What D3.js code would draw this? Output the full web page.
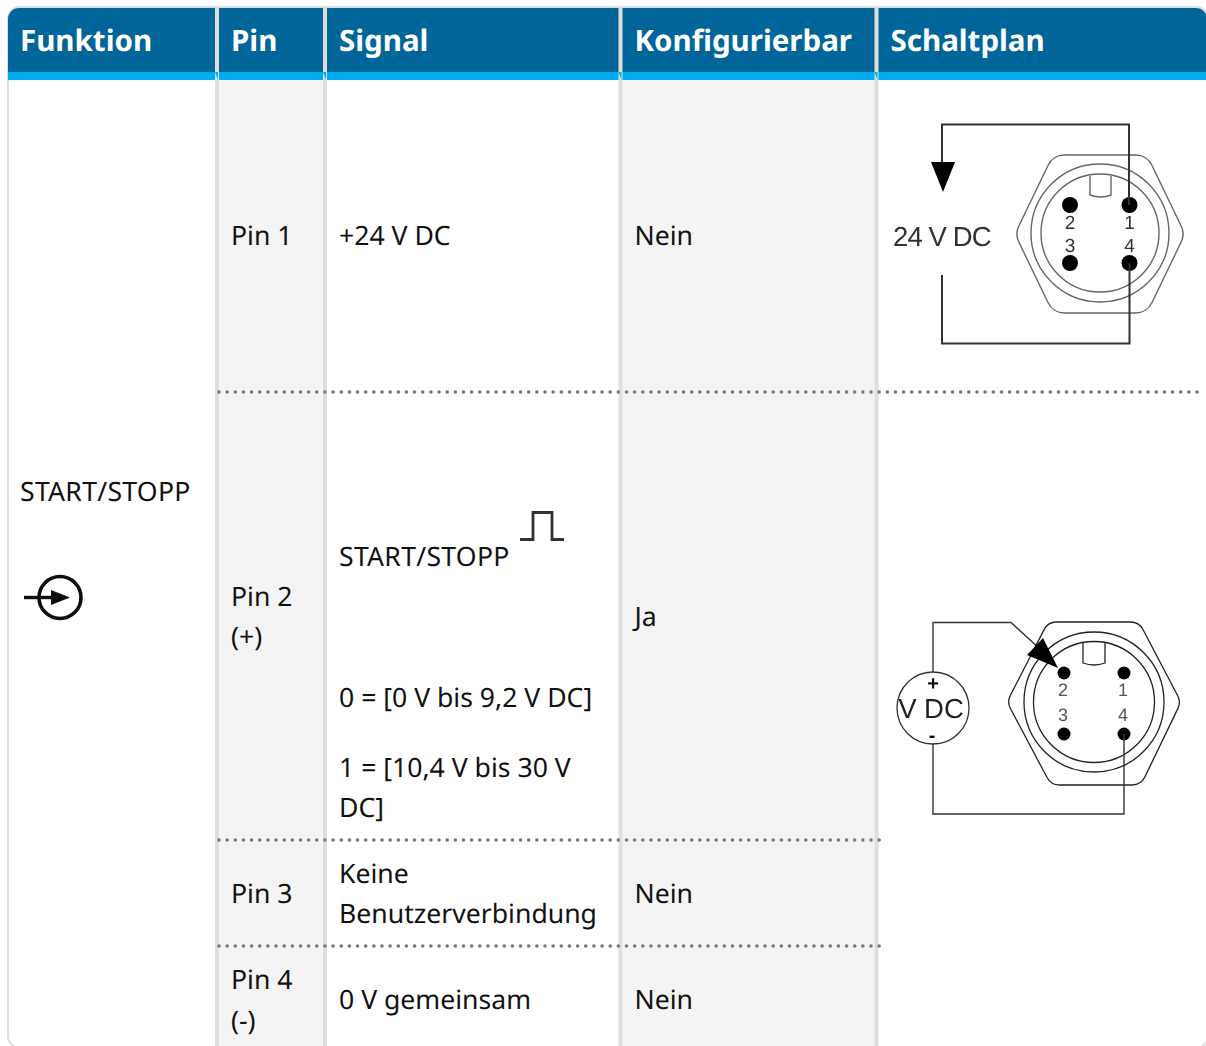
<!DOCTYPE html>
<html>
<head>
<meta charset="utf-8">
<script src="https://cdn.jsdelivr.net/npm/d3@7"></script>
<style>
html, body { margin: 0; padding: 0; background: #fff; overflow: hidden; }
svg { display: block; }
text { font-family: "Noto Sans", sans-serif; text-rendering: geometricPrecision; }
</style>
</head>
<body>
<div id="table"></div>
<script>
// table content
var headers = ["Funktion", "Pin", "Signal", "Konfigurierbar", "Schaltplan"];
var functionLabel = "START/STOPP";
var pinLabels = [["Pin 1"], ["Pin 2", "(+)"], ["Pin 3"], ["Pin 4", "(-)"]];
var signalLabels = [
	["+24 V DC"],
	["START/STOPP", "0 = [0 V bis 9,2 V DC]", "1 = [10,4 V bis 30 V", "DC]"],
	["Keine", "Benutzerverbindung"],
	["0 V gemeinsam"]
];
var configLabels = ["Nein", "Ja", "Nein", "Nein"];
var connectorPins = ["1", "2", "3", "4"];

// layout, separate from the content
var width = 1206, height = 1046;
var columnEdges = [7, 215, 323, 618.5, 874.5, 1230];
var rowEdges = [80, 392, 840, 946, 1048];
var borderWidth = 4, textPad = 12;
var pinBaselines = [[245], [606, 646], [903], [989, 1030]];
var signalBaselines = [[245], [566, 707, 777, 817], [883, 923], [1009]];
var configBaselines = [245, 626, 903, 1009];

var colors = {dark: "#006699", light: "#00aeef", border: "#dedede", shade: "#f4f4f4", dots: "#777", text: "#111", wire: "#333"};

var svg = d3.select("#table").append("svg")
	.attr("width", width)
	.attr("height", height);

// the connector drawings are scaled pictures in the original, so soften them a bit
var soft = svg.append("defs").append("filter").attr("id", "soft");
soft.append("feGaussianBlur").attr("stdDeviation", 0.5);

// column index -> left edge
var x = d3.scaleOrdinal().domain(d3.range(columnEdges.length)).range(columnEdges);
var textX = function(i) { return x(i) + (i == 0 ? 13 : borderWidth + textPad); };

// shaded columns
[1, 3].forEach(function(i) {
	svg.append("rect")
		.attr("x", x(i))
		.attr("y", rowEdges[0])
		.attr("width", x(i + 1) - x(i))
		.attr("height", height - rowEdges[0])
		.attr("fill", colors.shade);
});

// outer border with rounded corners, runs past the right edge
svg.append("rect")
	.attr("x", 8)
	.attr("y", 7)
	.attr("width", 1200)
	.attr("height", 1041)
	.attr("rx", 12)
	.attr("fill", "none")
	.attr("stroke", colors.border)
	.attr("stroke-width", 2);

// header bands
var clipTop = svg.append("clipPath").attr("id", "headclip");
clipTop.append("rect").attr("x", 8).attr("y", 8).attr("width", 1199).attr("height", 90).attr("rx", 11);
var head = svg.append("g").attr("clip-path", "url(#headclip)");
head.append("rect").attr("x", 7).attr("y", 8).attr("width", 1250).attr("height", 64).attr("fill", colors.dark);
head.append("rect").attr("x", 7).attr("y", 72).attr("width", 1250).attr("height", 8).attr("fill", colors.light);

// column rules
svg.selectAll(".rule")
	.data(columnEdges.slice(1, 5))
	.enter().append("rect")
	.attr("class", "rule")
	.attr("x", function(d) { return d; })
	.attr("y", 8)
	.attr("width", borderWidth)
	.attr("height", height - 8)
	.attr("fill", colors.border);

// little mitre where the rule meets the blue band
svg.selectAll(".mitre")
	.data(columnEdges.slice(1, 5))
	.enter().append("path")
	.attr("class", "mitre")
	.attr("d", function(d) { return "M" + d + ",72L" + (d + 3) + ",72L" + (d + 3) + ",80Z"; })
	.attr("fill", colors.light);

// dotted row rules
var dotted = [
	{y: rowEdges[1], x1: 219, x2: 1204},
	{y: rowEdges[2], x1: 219, x2: 880},
	{y: rowEdges[3], x1: 219, x2: 880}
];
svg.selectAll(".dots")
	.data(dotted)
	.enter().append("line")
	.attr("class", "dots")
	.attr("x1", function(d) { return d.x1; })
	.attr("x2", function(d) { return d.x2; })
	.attr("y1", function(d) { return d.y; })
	.attr("y2", function(d) { return d.y; })
	.attr("stroke", colors.dots)
	.attr("stroke-width", 3.6)
	.attr("stroke-linecap", "round")
	.attr("stroke-dasharray", "0.01 8.14");

// header text
svg.selectAll(".head")
	.data(headers)
	.enter().append("text")
	.attr("class", "head")
	.attr("x", function(d, i) { return textX(i); })
	.attr("y", 51)
	.attr("fill", "#fff")
	.attr("font-size", 29.5)
	.attr("font-weight", 700)
	.text(function(d) { return d; });

function cellText(col, lines, baselines) {
	svg.append("g").selectAll("text")
		.data(lines)
		.enter().append("text")
		.attr("x", textX(col))
		.attr("y", function(d, i) { return baselines[i]; })
		.attr("fill", colors.text)
		.attr("font-size", 26.6)
		.attr("letter-spacing", function(d) { return d == functionLabel ? 0.28 : null; })
		.text(function(d) { return d; });
}

cellText(0, [functionLabel], [501]);
pinLabels.forEach(function(lines, r) { cellText(1, lines, pinBaselines[r]); });
signalLabels.forEach(function(lines, r) { cellText(2, lines, signalBaselines[r]); });
configLabels.forEach(function(d, r) { cellText(3, [d], [configBaselines[r]]); });

var line = d3.line();

// START/STOPP input icon
var icon = svg.append("g").attr("stroke", "#111").attr("fill", "none").attr("filter", "url(#soft)");
icon.append("circle").attr("cx", 60).attr("cy", 597.5).attr("r", 21).attr("stroke-width", 3.6);
icon.append("path").attr("d", line([[24, 597.5], [52, 597.5]])).attr("stroke-width", 3.4);
icon.append("path").attr("d", line([[51, 590], [70, 597.5], [51, 605]]) + "Z").attr("fill", "#111").attr("stroke", "none");

// pulse next to START/STOPP
svg.append("path")
	.attr("d", line([[520, 539.5], [533, 539.5], [533, 512.5], [552, 512.5], [552, 539.5], [564, 539.5]]))
	.attr("fill", "none")
	.attr("stroke", colors.wire)
	.attr("stroke-width", 2.8)
	.attr("filter", "url(#soft)");

// hexagon outline with rounded corners
function hexPath(h, r) {
	var p = d3.path();
	var n = h.length;
	var mid = [(h[n - 1][0] + h[0][0]) / 2, (h[n - 1][1] + h[0][1]) / 2];
	p.moveTo(mid[0], mid[1]);
	h.forEach(function(v, i) {
		var next = h[(i + 1) % n];
		p.arcTo(v[0], v[1], next[0], next[1], r);
	});
	p.closePath();
	return p.toString();
}

// connector drawing, hexagon with rings, key and four pins
function connector(c) {
	var g = svg.append("g").attr("filter", "url(#soft)");
	g.append("path")
		.attr("d", hexPath(c.hex, c.hexR))
		.attr("fill", "none")
		.attr("stroke", c.hexColor)
		.attr("stroke-width", c.hexWidth);
	g.selectAll(".ring")
		.data(c.rings)
		.enter().append("circle")
		.attr("class", "ring")
		.attr("cx", c.cx)
		.attr("cy", c.cy)
		.attr("r", function(d) { return d; })
		.attr("fill", "none")
		.attr("stroke", c.hexColor)
		.attr("stroke-width", c.hexWidth);
	g.append("path")
		.attr("d", "M" + c.key[0] + "," + c.key[2] + "V" + (c.key[3] - 2) + "Q" + (c.key[0] + c.key[1]) / 2 + "," + (c.key[3] + 2) + " " + c.key[1] + "," + (c.key[3] - 2) + "V" + c.key[2])
		.attr("fill", "none")
		.attr("stroke", c.hexColor)
		.attr("stroke-width", c.hexWidth);
	g.selectAll(".pin")
		.data(c.pins)
		.enter().append("circle")
		.attr("class", "pin")
		.attr("cx", function(d) { return d[0]; })
		.attr("cy", function(d) { return d[1]; })
		.attr("r", c.pinR)
		.attr("fill", "#000");
	g.selectAll(".num")
		.data(connectorPins)
		.enter().append("text")
		.attr("x", function(d, i) { return c.nums[i][0]; })
		.attr("y", function(d, i) { return c.nums[i][1]; })
		.attr("text-anchor", "middle")
		.attr("font-size", c.numSize)
		.attr("fill", c.numColor)
		.style("font-family", "Liberation Sans")
		.text(function(d) { return d; });
	c.wires.forEach(function(w) {
		g.append("path")
			.attr("d", line(w))
			.attr("fill", "none")
			.attr("stroke", colors.wire)
			.attr("stroke-width", c.wireWidth);
	});
	g.append("path").attr("d", line(c.arrow) + "Z").attr("fill", "#000");
	return g;
}

var first = connector({
	cx: 1100, cy: 233, rings: [69, 59],
	hex: [[1053, 155], [1147, 155], [1185, 234], [1147, 313], [1053, 313], [1015, 234]], hexR: 18,
	hexColor: "#666", hexWidth: 1.4,
	key: [1090, 1111, 176, 197],
	pins: [[1129.5, 205], [1070, 205], [1070, 263], [1129.5, 263]], pinR: 8,
	nums: [[1129.5, 229], [1070, 229], [1070, 252], [1129.5, 252]], numSize: 19, numColor: "#333",
	wires: [[[942, 162], [942, 124.5], [1129, 124.5], [1129, 205]], [[942, 275], [942, 343.5], [1129.5, 343.5], [1129.5, 263]]],
	wireWidth: 2,
	arrow: [[931, 162], [955, 162], [943, 192]]
});
first.append("text")
	.attr("x", 893)
	.attr("y", 246)
	.attr("font-size", 27.5)
	.attr("letter-spacing", -0.9)
	.attr("fill", "#333")
	.style("font-family", "Liberation Sans")
	.text("24 V DC");

var second = connector({
	cx: 1094, cy: 702, rings: [70, 60.5],
	hex: [[1048, 622], [1139, 622], [1181, 702], [1141, 785], [1051, 785], [1007, 702]], hexR: 14,
	hexColor: "#222", hexWidth: 1.3,
	key: [1083, 1105, 643, 665],
	pins: [[1124, 673], [1064, 673], [1064, 734], [1124, 734]], pinR: 6.5,
	nums: [[1123, 696], [1063, 696], [1063, 721], [1123, 721]], numSize: 18, numColor: "#555",
	wires: [[[933, 672], [933, 622.5], [1011, 622.5], [1040, 649]], [[933, 744], [933, 814], [1124, 814], [1124, 734]]],
	wireWidth: 1.4,
	arrow: [[1058, 668], [1027, 655], [1043, 638]]
});
second.append("circle").attr("cx", 933).attr("cy", 708).attr("r", 36).attr("fill", "none").attr("stroke", colors.wire).attr("stroke-width", 1.3);
second.append("text").attr("x", 931).attr("y", 718).attr("text-anchor", "middle").attr("font-size", 27.5).attr("fill", "#222").style("font-family", "Liberation Sans").text("V DC");
second.append("text").attr("x", 933).attr("y", 689.5).attr("text-anchor", "middle").attr("font-size", 20).attr("font-weight", 700).attr("fill", "#111").style("font-family", "Liberation Sans").text("+");
second.append("text").attr("x", 932).attr("y", 742).attr("text-anchor", "middle").attr("font-size", 20).attr("font-weight", 700).attr("fill", "#111").style("font-family", "Liberation Sans").text("-");
</script>
</body>
</html>
